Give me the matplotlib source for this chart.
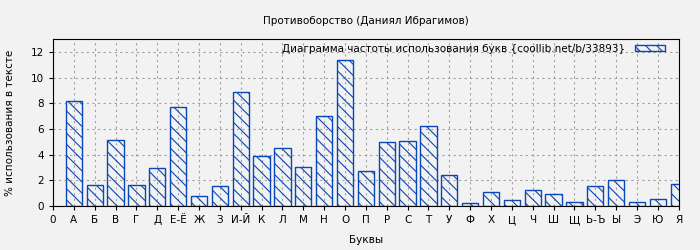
import matplotlib
matplotlib.use("Agg")
import matplotlib.pyplot as plt

# Данные
letters = ["А", "Б", "В", "Г", "Д", "Е-Ё", "Ж", "З", "И-Й", "К", "Л", "М", "Н", "О", "П",
           "Р", "С", "Т", "У", "Ф", "Х", "Ц", "Ч", "Ш", "Щ", "Ь-Ъ", "Ы", "Э", "Ю", "Я"]
values = [8.2, 1.61, 5.16, 1.61, 2.97, 7.73, 0.78, 1.56, 8.9, 3.88, 4.53, 3.05, 7.03, 11.33, 2.71,
          4.97, 5.05, 6.22, 2.40, 0.21, 1.07, 0.44, 1.22, 0.91, 0.29, 1.56, 2.0, 0.29, 0.52, 1.69]

blue = "#0a47b8"
bg = "#f2f2f2"
plt.rcParams["hatch.color"] = blue
plt.rcParams["hatch.linewidth"] = 0.8
plt.rcParams["font.family"] = "DejaVu Sans"

fig = plt.figure(figsize=(7, 2.5), dpi=100, facecolor=bg)
ax = fig.add_axes([0.0757, 0.176, 0.894, 0.668], facecolor=bg)

x = list(range(1, len(letters) + 1))
ax.bar(x, values, width=0.78, color="none", edgecolor=blue, linewidth=1.0,
       hatch="\\\\\\", label="Диаграмма частоты использования букв {coollib.net/b/33893}",
       zorder=3)

ax.set_xlim(0, 30)
ax.set_ylim(0, 13)
ax.set_xticks([0] + x)
ax.set_xticklabels(["0"] + letters, fontsize=7.5)
ax.set_yticks(range(0, 13, 2))
ax.tick_params(axis="y", labelsize=7.5, length=3)
ax.tick_params(axis="x", length=3)
ax.grid(True, color="#a0a0a0", linestyle=(0, (2, 3)), linewidth=0.8, zorder=0)

ax.set_title("Противоборство (Даниял Ибрагимов)", fontsize=7.5, pad=11)
ax.set_xlabel("Буквы", fontsize=7.5, labelpad=7)
ax.set_ylabel("% использования в тексте", fontsize=7.5, labelpad=11)

ax.legend(loc="upper right", bbox_to_anchor=(0.981, 0.985), frameon=False,
          fontsize=7.5, markerfirst=False,
          handlelength=2.9, handleheight=0.6, handletextpad=0.9,
          borderaxespad=0.0, borderpad=0.2)

fig.savefig("out.png", dpi=100, facecolor=fig.get_facecolor())
